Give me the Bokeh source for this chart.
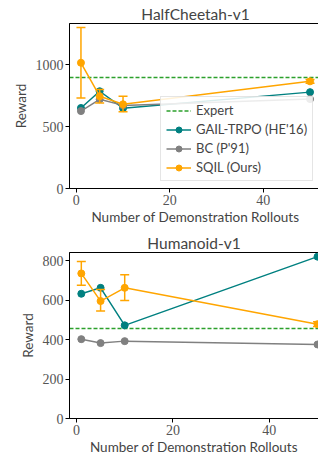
import numpy as np
from bokeh.plotting import figure
from bokeh.layouts import column
from bokeh.models import Range1d, FixedTicker, Legend
from bokeh.embed import file_html
from bokeh.resources import INLINE

# ---- data ----
rollouts = [1, 5, 10, 50]

hc_sqil = [1015, 745, 680, 865]
hc_sqil_lo = [730, 690, 620, 850]
hc_sqil_hi = [1300, 800, 745, 880]
hc_gail = [650, 785, 648, 778]
hc_bc = [625, 720, 671, 722]
hc_expert = [895]

hu_sqil = [735, 595, 662, 478]
hu_sqil_lo = [675, 545, 598, 466]
hu_sqil_hi = [795, 653, 728, 490]
hu_gail = [632, 662, 472, 820]
hu_bc = [402, 382, 392, 375]
hu_expert = [458]

TEAL = "#008080"
GREY = "#808080"
ORANGE = "#FFA500"
GREEN = "#2ca02c"
SANS = "Lato"
SERIF = "Liberation Serif"


def make(title, xr, yr, yticks, sqil, lo, hi, gail, bc, expert,
         left, top, bottom, fw, fh, legend):
    p = figure(frame_width=fw, frame_height=fh, x_range=Range1d(*xr),
               y_range=Range1d(*yr), output_backend="svg",
               toolbar_location=None, min_border_left=left,
               min_border_right=1, min_border_top=top,
               min_border_bottom=bottom)
    p.title.text = title
    p.title.align = "center"
    p.title.text_font = SANS
    p.title.text_font_size = "15.5px"
    p.title.text_font_style = "normal"
    p.title.standoff = 2
    p.grid.visible = False
    p.outline_line_color = "black"
    p.outline_line_width = 1
    p.background_fill_color = "white"
    p.border_fill_color = "white"
    for ax in (p.xaxis[0], p.yaxis[0]):
        ax.major_label_text_font = SERIF
        ax.major_label_text_font_size = "14px"
        ax.major_label_text_color = "#555555"
        ax.axis_label_text_font = SANS
        ax.axis_label_text_font_size = "13.5px"
        ax.axis_label_text_font_style = "normal"
        ax.minor_tick_line_color = None
        ax.major_tick_out = 4
        ax.major_tick_in = 0
        ax.axis_line_color = "black"
        ax.major_tick_line_color = "black"
        ax.major_label_standoff = 2
    p.xaxis.ticker = FixedTicker(ticks=[0, 20, 40])
    p.yaxis.ticker = FixedTicker(ticks=yticks)
    p.xaxis.axis_label = "Number of Demonstration Rollouts"
    p.yaxis.axis_label = "Reward"
    p.xaxis.axis_label_standoff = 1
    p.yaxis.axis_label_standoff = 4

    r_exp = p.hspan(y=expert, line_color=GREEN, line_dash="4 2", line_width=1.3)
    rg_l = p.line(rollouts, gail, line_color=TEAL, line_width=1.5)
    rg_s = p.scatter(rollouts, gail, size=7, color=TEAL)
    rb_l = p.line(rollouts, bc, line_color=GREY, line_width=1.5)
    rb_s = p.scatter(rollouts, bc, size=7, color=GREY)
    p.segment(x0=rollouts, y0=lo, x1=rollouts, y1=hi,
              line_color=ORANGE, line_width=1.5)
    p.scatter(rollouts, lo, marker="dash", size=9, line_color=ORANGE,
              line_width=1.5)
    p.scatter(rollouts, hi, marker="dash", size=9, line_color=ORANGE,
              line_width=1.5)
    rs_l = p.line(rollouts, sqil, line_color=ORANGE, line_width=1.5)
    rs_s = p.scatter(rollouts, sqil, size=7, color=ORANGE)

    if legend:
        lg = Legend(items=[("Expert", [r_exp]),
                           ("GAIL-TRPO (HE'16)", [rg_l, rg_s]),
                           ("BC (P'91)", [rb_l, rb_s]),
                           ("SQIL (Ours)", [rs_l, rs_s])],
                    location=(98, 7))
        lg.label_text_font = SANS
        lg.label_text_font_size = "13px"
        lg.glyph_width = 25
        lg.glyph_height = 15
        lg.label_height = 15
        lg.spacing = 3
        lg.padding = 5
        lg.margin = 0
        lg.border_line_color = "#cccccc"
        lg.background_fill_alpha = 0.85
        p.add_layout(lg, "center")
    return p


p1 = make("HalfCheetah-v1", (-1.45, 52.45), (0, 1332), [0, 500, 1000],
          hc_sqil, hc_sqil_lo, hc_sqil_hi, hc_gail, hc_bc, hc_expert,
          65, 23, 40, 252, 165, True)
p2 = make("Humanoid-v1", (-1.45, 50.2), (0, 841), [0, 200, 400, 600, 800],
          hu_sqil, hu_sqil_lo, hu_sqil_hi, hu_gail, hu_bc, hu_expert,
          69, 24, 36, 249, 166, False)

layout = column(p1, p2, spacing=0)
open("out.html", "w").write(file_html(layout, INLINE))
